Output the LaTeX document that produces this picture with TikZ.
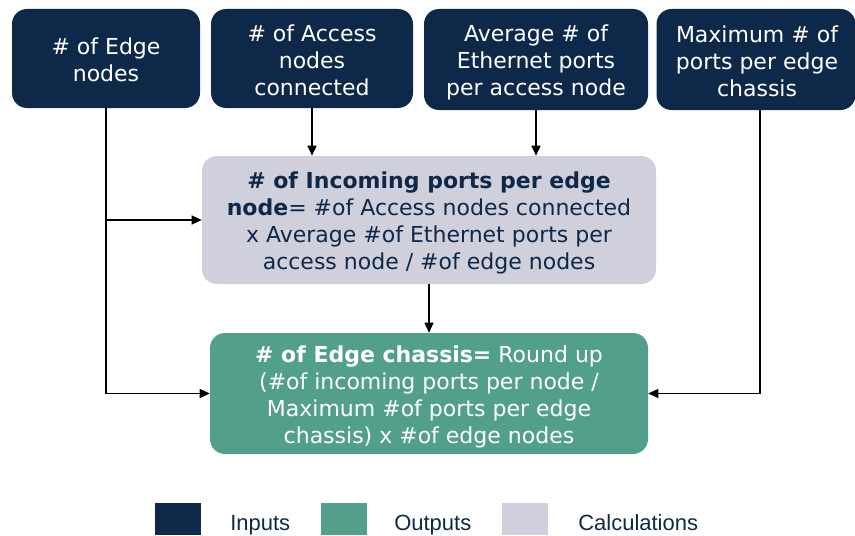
\documentclass[tikz,border=0pt]{standalone}
\usepackage{fontspec}
\setmainfont{DejaVu Sans}
\newfontfamily\legendfont{Liberation Sans}
\usetikzlibrary{arrows.meta}
\definecolor{navy}{RGB}{14,40,73}
\definecolor{calcgray}{RGB}{208,208,220}
\definecolor{outgreen}{RGB}{82,160,140}
\begin{document}
\begin{tikzpicture}[x=0.75pt,y=-0.75pt,
  boxbase/.style={rectangle,rounded corners=11.25pt,inner sep=0pt},
  txt/.style={align=center,inner sep=0pt,font=\fontsize{16.5}{20.2}\selectfont},
  intxt/.style={txt,text=white},
  calctxt/.style={txt,text=navy},
  arr/.style={line width=0.9pt,-{Triangle[length=7.5pt,width=6.75pt]}},
  legsq/.style={rectangle,inner sep=0pt,minimum width=34.5pt,minimum height=24pt,anchor=north west},
  legtext/.style={text=navy,inner sep=0pt,anchor=base west,font=\legendfont\fontsize{16.5}{20}\selectfont}]
\useasboundingbox (0,0) rectangle (855,535);
\node[boxbase,fill=navy,minimum width=141pt,minimum height=74.25pt] (b1) at (106,58.5) {};
\node[intxt] (b1t) at (106,60) {\# of Edge\\nodes};
\node[boxbase,fill=navy,minimum width=151.5pt,minimum height=74.25pt] (b2) at (312,58.5) {};
\node[intxt] (b2t) at (312,60) {\# of Access\\nodes\\connected};
\node[boxbase,fill=navy,minimum width=168pt,minimum height=75.75pt] (b3) at (536,59.5) {};
\node[intxt] (b3t) at (536,62) {Average \# of\\Ethernet ports\\per access node};
\node[boxbase,fill=navy,minimum width=149.25pt,minimum height=75.75pt] (b4) at (756,59.5) {};
\node[intxt] (b4t) at (757,61) {Maximum \# of\\ports per edge\\chassis};
\node[boxbase,fill=calcgray,minimum width=340.5pt,minimum height=96pt] (calc) at (429,220) {};
\node[calctxt] (calct) at (429,223)
  {\textbf{\# of Incoming ports per edge}\\\textbf{node}= \#of Access nodes connected\\x Average \#of Ethernet ports per\\access node / \#of edge nodes};
\node[boxbase,fill=outgreen,minimum width=328.5pt,minimum height=90.75pt] (out) at (429,393.5) {};
\node[intxt] (outt) at (429,397)
  {\textbf{\# of Edge chassis=} Round up\\(\#of incoming ports per node /\\Maximum \#of ports per edge\\chassis) x \#of edge nodes};
\coordinate (b4s) at (760,110);
\draw[arr] (b2.south) -- (b2.south |- calc.north);
\draw[arr] (b3.south) -- (b3.south |- calc.north);
\draw[arr] (calc.south) -- (out.north);
\draw[arr] (b1.south) |- (out.west);
\draw[arr] (b1.south |- calc.west) -- (calc.west);
\draw[arr] (b4s) |- (out.east);
% legend
\node[legsq,fill=navy] (l1) at (155,503) {};
\node[legtext] (t1) at (230,530) {Inputs};
\node[legsq,fill=outgreen] (l2) at (321,503) {};
\node[legtext] (t2) at (394,530) {Outputs};
\node[legsq,fill=calcgray] (l3) at (502,503) {};
\node[legtext] (t3) at (578,530) {Calculations};
\end{tikzpicture}
\end{document}
